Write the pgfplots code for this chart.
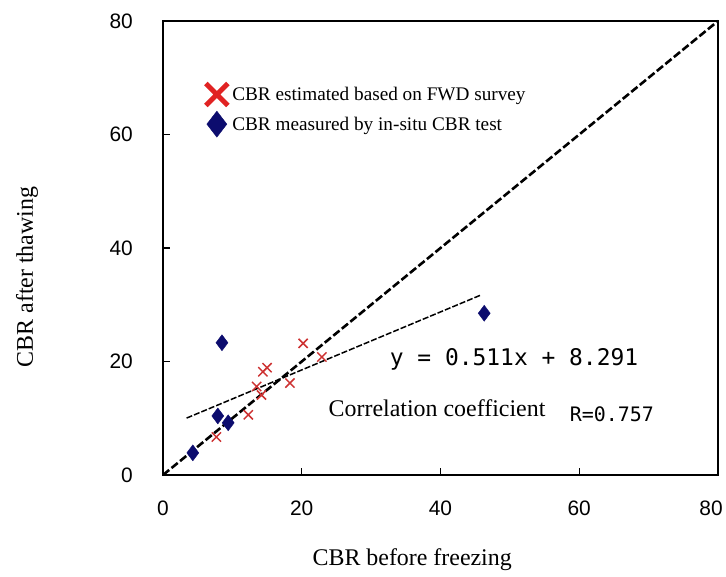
\documentclass[border=0pt]{standalone}
\usepackage{fontspec}
\setmainfont{Liberation Serif}
\newfontfamily\sansf{Liberation Sans}
\newfontfamily\monof{DejaVu Sans Mono}
\usepackage{pgfplots}
\pgfplotsset{compat=1.18}
\definecolor{xred}{RGB}{205,50,50}
\definecolor{lred}{RGB}{225,35,35}
\definecolor{navy}{RGB}{12,12,110}
\begin{document}
\begin{tikzpicture}
\path[use as bounding box] (-163bp,-102bp) rectangle (563bp,475bp);
\begin{axis}[
  scale only axis,
  width=555bp, height=454bp,
  at={(0,0)}, anchor=south west,
  xmin=0, xmax=80, ymin=0, ymax=80,
  xtick={0,20,40,60}, ytick={0,20,40,60,80},
  extra x ticks={80},
  extra x tick style={xticklabel style={xshift=-7bp}},
  tick pos=left, tick align=inside,
  major tick length=7bp,
  tick style={black, line width=1.5bp},
  axis line style={line width=2bp},
  /pgf/number format/assume math mode=true,
  tick label style={font=\sansf\fontsize{21}{21}\selectfont},
  yticklabel style={inner sep=0pt, xshift=-30bp},
  xticklabel style={inner sep=0pt, yshift=-26bp},
  xlabel={CBR before freezing},
  ylabel={CBR after thawing},
  label style={font=\fontsize{24}{24}\selectfont},
  xlabel style={at={(axis description cs:0.449,-0.187)}, anchor=center},
  ylabel style={at={(axis description cs:-0.245,0.436)}, anchor=center},
  legend style={at={(axis cs:5.5,70.0)}, anchor=north west, draw=none, fill=white,
     font=\fontsize{19.3}{19.3}\selectfont, inner xsep=2bp, inner ysep=3bp,
     row sep=3bp, cells={anchor=west}},
  clip=false,
]
% diagonal 1:1
\addplot[black, line width=2.6bp, dash pattern=on 8bp off 3bp, forget plot] coordinates {(0,0) (80,80)};
% regression
\addplot[black, line width=1.5bp, dash pattern=on 6bp off 2bp, forget plot] coordinates {(3.4,10.03) (45.7,31.65)};
% FWD estimated
\addplot[only marks, mark=x, mark size=6.5bp, xred, mark options={line width=1.5bp}, forget plot] coordinates {
  (7.7,6.7) (12.3,10.6) (13.5,15.6) (14.2,14.1) (14.4,18.2) (15.0,18.9)
  (18.3,16.2) (20.2,23.2) (22.9,20.8)
};
% in-situ measured
\addplot[only marks, mark=diamond*, mark size=8bp, navy, forget plot] coordinates {
  (4.3,3.9) (7.9,10.4) (9.4,9.2) (8.5,23.3) (46.3,28.5)
};
\addlegendimage{legend image code/.code={\draw[lred, line width=5bp] (0bp,-11bp)--(22bp,11bp) (0bp,11bp)--(22bp,-11bp);}}
\addlegendentry{CBR estimated based on FWD survey}
\addlegendimage{legend image code/.code={\fill[navy] (11bp,-13bp)--(21bp,0bp)--(11bp,13bp)--(1bp,0bp)--cycle;}}
\addlegendentry{CBR measured by in-situ CBR test}
\node[font=\monof\fontsize{23}{23}\selectfont] at (axis cs:50.6,20.3) {y = 0.511x + 8.291};
\node[font=\fontsize{24}{24}\selectfont] at (axis cs:39.5,11.8) {Correlation coefficient};
\node[font=\monof\fontsize{20}{20}\selectfont] at (axis cs:64.7,10.7) {R=0.757};
\end{axis}
\end{tikzpicture}
\end{document}
